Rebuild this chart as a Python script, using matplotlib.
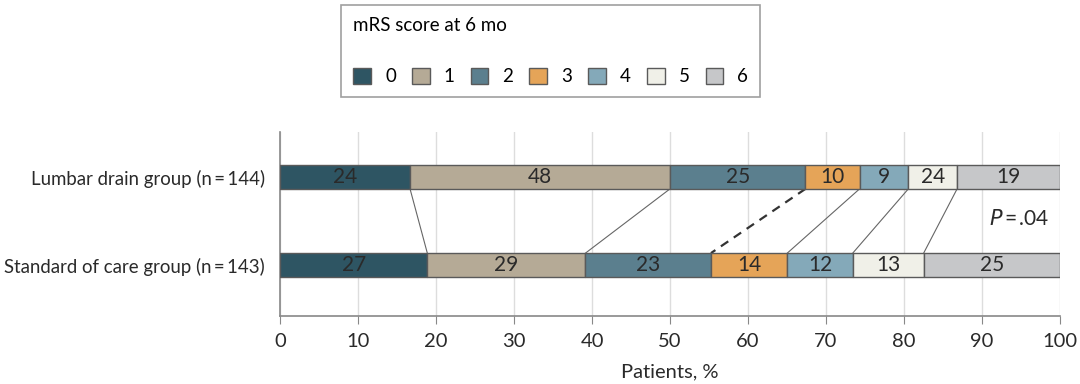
import matplotlib
matplotlib.use("Agg")
import matplotlib.pyplot as plt
from matplotlib.patches import Patch
import numpy as np

plt.rcParams['font.family'] = ['Lato', 'DejaVu Sans']

groups = ["Standard of care group (n\u2009=\u2009143)", "Lumbar drain group (n\u2009=\u2009144)"]
group_n = [143, 144]
scores = ["0", "1", "2", "3", "4", "5", "6"]
colors = ["#2e5563", "#b5aa96", "#5b7f8e", "#e5a458", "#84a9b9", "#f0f0e8", "#c6c7c9"]

# widths (patients per score)
standard_counts = [27, 29, 23, 14, 12, 13, 25]
lumbar_counts = [24, 48, 25, 10, 9, 9, 19]
# labels as printed in the figure
standard_labels = ["27", "29", "23", "14", "12", "13", "25"]
lumbar_labels = ["24", "48", "25", "10", "9", "24", "19"]

counts = [standard_counts, lumbar_counts]
labels = [standard_labels, lumbar_labels]
bar_h = 0.27

fig = plt.figure(figsize=(10.8, 3.84), dpi=100)
ax = fig.add_axes([0.2593, 0.177, 0.7222, 0.479])

cum = []
for yi, (cnt, lab, n) in enumerate(zip(counts, labels, group_n)):
    pct = np.array(cnt) / n * 100
    left = np.concatenate([[0], np.cumsum(pct)[:-1]])
    cum.append(np.cumsum(pct))
    ax.barh(yi, pct, left=left, height=bar_h, color=colors,
            edgecolor="#5a5a5a", linewidth=1.0, zorder=3)
    for l, w, t in zip(left, pct, lab):
        ax.text(l + w / 2, yi, t, ha="center", va="center",
                fontsize=15, color="#2a2a2a", zorder=4)

# connectors between category boundaries
for k in range(len(scores) - 1):
    dashed = k == 2
    ax.plot([cum[1][k], cum[0][k]], [1 - bar_h / 2, bar_h / 2],
            color="#333333" if dashed else "#666666",
            linestyle=(0, (4, 3)) if dashed else "-",
            linewidth=1.6 if dashed else 0.8, zorder=2)

ax.text(94.8, 0.52, "$P$\u2009=\u2009.04", ha="center", va="center", fontsize=15, color="#2a2a2a")

ax.set_xlim(0, 100)
ax.set_ylim(-0.58, 1.51)
ax.set_xticks(np.arange(0, 101, 10))
ax.set_yticks([0, 1])
ax.set_yticklabels(groups, fontsize=13.4, color="#2a2a2a")
ax.tick_params(axis="y", length=0, pad=11)
ax.tick_params(axis="x", length=6, color="#888888", labelsize=14.5,
               labelcolor="#2a2a2a", pad=6)
ax.set_xlabel("Patients, %", fontsize=14.5, color="#2a2a2a", labelpad=10)
ax.grid(axis="x", color="#dddddd", linewidth=1.0, zorder=0)
for s in ["top", "right"]:
    ax.spines[s].set_visible(False)
for s in ["left", "bottom"]:
    ax.spines[s].set_color("#888888")
    ax.spines[s].set_linewidth(1.2)

handles = [Patch(facecolor=c, edgecolor="#5a5a5a", label=s) for c, s in zip(colors, scores)]
leg = fig.legend(handles=handles, ncol=7, loc="upper left",
                 bbox_to_anchor=(0.3157, 0.987), title="mRS score at 6 mo",
                 fontsize=13.5, title_fontsize=13.5, frameon=True, fancybox=False,
                 edgecolor="#888888", handlelength=0.95, handleheight=0.95,
                 columnspacing=0.85, handletextpad=0.75, borderpad=0.65,
                 labelspacing=0.0, borderaxespad=0)
leg._legend_box.align = "left"
leg._legend_box.sep = 24
leg.get_frame().set_linewidth(1.2)

fig.savefig("out.png", dpi=100)
